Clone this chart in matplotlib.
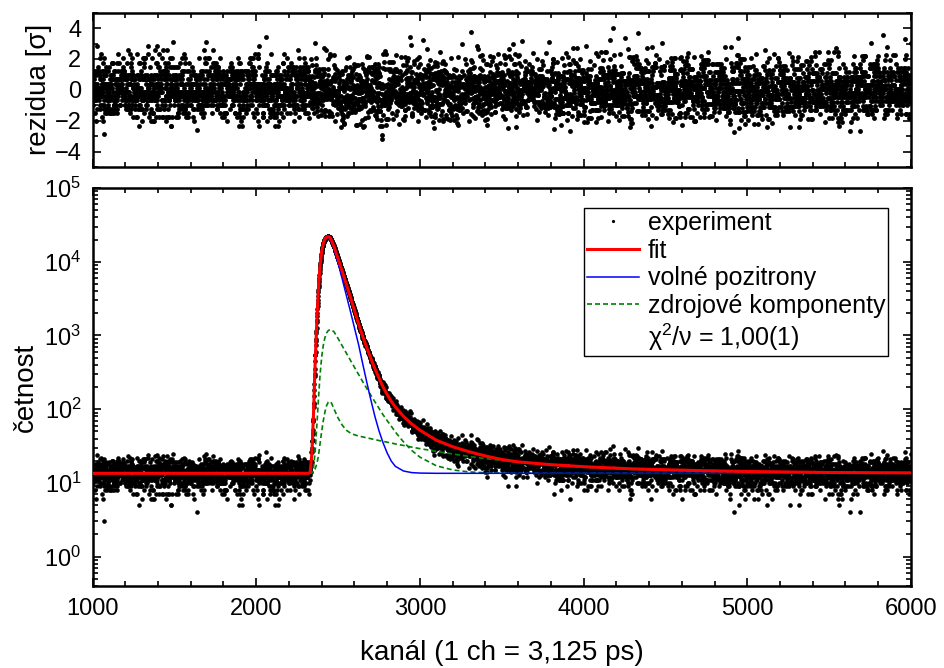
import numpy as np
import matplotlib
matplotlib.use("Agg")
import matplotlib.pyplot as plt
from matplotlib.lines import Line2D
from matplotlib.ticker import MultipleLocator, LogLocator, NullFormatter

plt.rcParams['font.family'] = ['Liberation Sans', 'DejaVu Sans']
plt.rcParams['mathtext.fontset'] = 'custom'
plt.rcParams['mathtext.rm'] = 'Liberation Sans'
plt.rcParams['mathtext.default'] = 'regular'

knot_ch = [1000, 2320, 2330, 2340, 2350, 2360, 2370, 2380, 2390, 2400,
           2410, 2420, 2430, 2440, 2450, 2460, 2475, 2500, 2525, 2550,
           2575, 2600, 2625, 2650, 2675, 2700, 2725, 2750, 2775, 2800,
           2825, 2850, 2900, 2950, 3000, 3100, 3200, 3300, 3400, 3500,
           3600, 3800, 4000, 4300, 4700, 5000, 5500, 6000]

# fit (red)
fit_val = [13.5, 13.5, 14, 25, 85, 420, 1500, 4200, 8800, 13800,
           17800, 20500, 21700, 22000, 21300, 19600, 16200, 11000, 7500, 5000,
           3350, 2200, 1450, 980, 690, 490, 355, 265, 200, 158,
           128, 107, 80, 63, 52, 38, 31, 26.5, 23.2, 20.8,
           19.3, 17.7, 16.6, 15.5, 14.7, 14.3, 13.85, 13.7]

# volne pozitrony (blue)
free_val = [13.5, 13.5, 14, 24, 80, 395, 1400, 3950, 8300, 13000,
            16800, 19300, 20400, 20600, 19900, 18200, 14900, 9600, 5900, 3550,
            2150, 1280, 760, 420, 235, 135, 80, 51, 35, 25.5,
            19.8, 16.8, 14.5, 13.8, 13.6, 13.5, 13.5, 13.5, 13.5, 13.5,
            13.5, 13.5, 13.5, 13.5, 13.5, 13.5, 13.5, 13.5]

# zdrojove komponenty (green dashed, two curves)
src1_val = [13.5, 13.5, 13.5, 13.8, 16, 26, 58, 135, 290, 510,
            740, 940, 1080, 1165, 1200, 1190, 1125, 911, 726, 580,
            463, 371, 297, 238, 192, 155, 126, 103, 84, 70,
            59, 49, 36, 27.6, 22.4, 17.1, 15.0, 14.1, 13.75, 13.6,
            13.55, 13.5, 13.5, 13.5, 13.5, 13.5, 13.5, 13.5]
src2_val = [13.5, 13.5, 13.5, 13.7, 14.3, 15.5, 18, 23, 34, 50,
            70, 92, 112, 124, 128, 121, 101, 76, 61, 52,
            47.5, 45, 43.3, 42.1, 40.9, 39.8, 38.7, 37.6, 36.6, 35.7,
            34.8, 33.8, 32.2, 30.6, 29.2, 26.8, 24.7, 22.9, 21.4, 20.2,
            19.1, 17.5, 16.35, 15.2, 14.36, 14.0, 13.72, 13.59]

# measured channels; counting noise cannot be read point by point,
# so Poisson counts around the fit stand in for the measured spectrum
channels = np.arange(1000, 6001)
fit_at_ch = 10 ** np.interp(channels, knot_ch, np.log10(fit_val))
rng = np.random.default_rng(7)
counts = rng.poisson(fit_at_ch)
residua = (counts - fit_at_ch) / np.sqrt(fit_at_ch)

fig = plt.figure(figsize=(9.44, 6.68), dpi=100)
ax1 = fig.add_axes([0.098, 0.750, 0.867, 0.231])
ax2 = fig.add_axes([0.098, 0.1228, 0.867, 0.5957])

# residuals
ax1.plot(channels, residua, 'o', color='black', ms=3.5, mew=0)
ax1.set_xlim(1000, 6000)
ax1.set_ylim(-5, 5)
ax1.yaxis.set_major_locator(MultipleLocator(2))
ax1.yaxis.set_minor_locator(MultipleLocator(1))
ax1.xaxis.set_major_locator(MultipleLocator(1000))
ax1.xaxis.set_minor_locator(MultipleLocator(200))
ax1.tick_params(labelbottom=False)
ax1.set_ylabel('rezidua [σ]', fontsize=20)
ax1.yaxis.set_label_coords(-0.049, 0.5)

# spectrum
ax2.plot(channels, counts, 'o', color='black', ms=3.3, mew=0, zorder=2,
         label='experiment')
ax2.plot(knot_ch, src1_val, color='#008000', lw=1.2, dashes=(3, 1.8), zorder=3,
         label='zdrojové komponenty')
ax2.plot(knot_ch, src2_val, color='#008000', lw=1.2, dashes=(3, 1.8), zorder=3)
ax2.plot(knot_ch, free_val, color='#0000ff', lw=1.1, zorder=4,
         label='volné pozitrony')
ax2.plot(knot_ch, fit_val, color='#ff0000', lw=2.2, zorder=5, label='fit')
ax2.set_yscale('log')
ax2.set_xlim(1000, 6000)
ax2.set_ylim(0.4, 1e5)
ax2.xaxis.set_major_locator(MultipleLocator(1000))
ax2.xaxis.set_minor_locator(MultipleLocator(200))
ax2.yaxis.set_major_locator(LogLocator(base=10, numticks=10))
ax2.yaxis.set_minor_locator(LogLocator(base=10, subs=np.arange(2, 10), numticks=20))
ax2.yaxis.set_minor_formatter(NullFormatter())
ax2.set_ylabel('četnost', fontsize=20)
ax2.yaxis.set_label_coords(-0.065, 0.5)
ax2.set_xlabel('kanál (1 ch = 3,125 ps)', fontsize=20)
ax2.xaxis.set_label_coords(0.5, -0.135)

for ax in (ax1, ax2):
    ax.tick_params(which='both', direction='in', top=True, right=True,
                   labelsize=17, width=1.2)
    ax.tick_params(which='major', length=6)
    ax.tick_params(which='minor', length=3.5)
    ax.tick_params(axis='x', pad=9)
    ax.tick_params(axis='y', pad=8)
    for s in ax.spines.values():
        s.set_linewidth(1.8)

h, l = ax2.get_legend_handles_labels()
order = [0, 3, 2, 1]
handles = [h[i] for i in order]
labels = [l[i] for i in order]
handles.append(Line2D([], [], linestyle='none'))
labels.append('χ$^2$/ν = 1,00(1)')
leg = ax2.legend(handles, labels, loc='upper right', bbox_to_anchor=(0.9725, 0.95),
                 borderaxespad=0, fontsize=18, frameon=True, fancybox=False,
                 framealpha=1, edgecolor='black', handlelength=2.1,
                 handletextpad=0.35, borderpad=0.12, labelspacing=0.15,
                 markerscale=0.7)
leg.get_frame().set_linewidth(1.0)

fig.savefig('out.png', dpi=100)
